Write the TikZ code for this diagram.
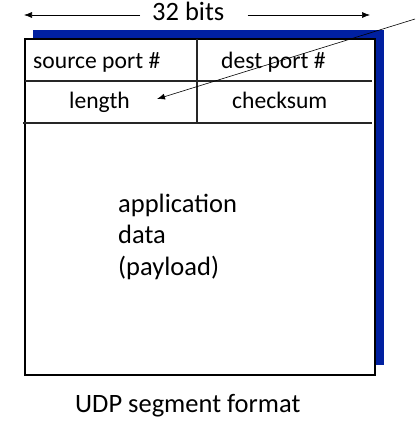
\documentclass[tikz,border=0pt]{standalone}
\usepackage{fontspec}
\setmainfont{Carlito}
\usetikzlibrary{arrows.meta,positioning}
\definecolor{udpblue}{RGB}{0,32,160}

\begin{document}
\begin{tikzpicture}[
    x=1pt, y=-1pt,
    field/.style={font=\fontsize{23.6}{28}\selectfont, inner sep=0pt, anchor=base west},
    label/.style={font=\fontsize{26.5}{31.5}\selectfont, inner sep=0pt, anchor=base west},
    arrow/.style={-{Latex[length=8pt,width=6pt]}, semithick},
    rule/.style={line width=1.3pt, black!85}
]
    \useasboundingbox (0,0) rectangle (415,428);
    % segment with shadow
    \fill[udpblue] (33,30) rectangle (384,365);
    \draw[fill=white, line width=1.3pt] (25,39) rectangle (375,375);
    \draw[rule] (25,81) -- (372,81);
    \draw[rule] (23,123) -- (372,123);
    \draw[rule] (197,39) -- (197,123);

    \node[field] (src) at (33,68) {source port \#};
    \node[field] (dst) at (221,68) {dest port \#};
    \node[field] (len) at (69,108) {length};
    \node[field] (chk) at (232,108) {checksum};
    \node[label, align=left] (data) at (118,275)
        {application\\data\\(payload)};
    \node[label] (caption) at (75,412) {UDP segment format};

    % width
    \node[label] (bits) at (152,21) {32 bits};
    \coordinate (bitsL) at (24,15);
    \coordinate (bitsR) at (370,15);
    \draw[arrow] ([xshift=-12pt]bits.west |- bitsL) -- (bitsL);
    \draw[arrow] ([xshift=23pt]bits.east |- bitsR) -- (bitsR);

    % pointer to length
    \coordinate (lenFrom) at (415,19);
    \coordinate (lenTip) at (157,99);
    \draw[arrow] (lenFrom) -- (lenTip);
\end{tikzpicture}
\end{document}
